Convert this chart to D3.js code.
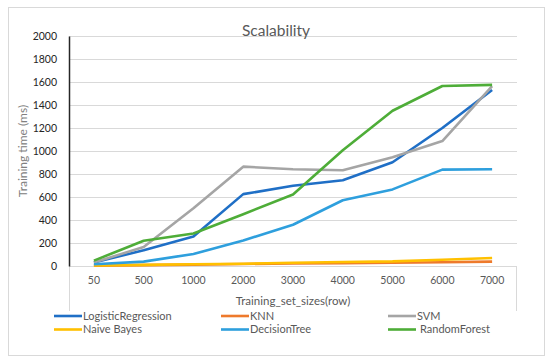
<!DOCTYPE html>
<html>
<head>
<meta charset="utf-8">
<script src="https://d3js.org/d3.v7.min.js"></script>
<style>
body { margin: 0; background: #fff; }
text { font-family: Lato, "Open Sans", sans-serif; }
</style>
</head>
<body>
<svg></svg>
<script>
var sizes = ["50", "500", "1000", "2000", "3000", "4000", "5000", "6000", "7000"];
var yTicks = [0, 200, 400, 600, 800, 1000, 1200, 1400, 1600, 1800, 2000];

var logisticRegression = [30, 137, 257, 625, 698, 745, 902, 1200, 1530];
var knn = [3, 8, 12, 18, 22, 25, 28, 32, 38];
var svm = [30, 166, 502, 864, 841, 832, 946, 1086, 1565];
var naiveBayes = [5, 10, 15, 20, 28, 35, 40, 55, 70];
var decisionTree = [15, 38, 105, 222, 359, 572, 666, 838, 841];
var randomForest = [47, 219, 283, 450, 622, 1007, 1350, 1565, 1575];

var seriesNames = ["LogisticRegression", "KNN", "SVM", "Naive Bayes", "DecisionTree", "RandomForest"];
var seriesValues = [logisticRegression, knn, svm, naiveBayes, decisionTree, randomForest];
var colors = ["#1f6fc6", "#ee7a2c", "#a5a5a5", "#ffc000", "#2e9fdd", "#4ead38"];

var width = 550, height = 364;
var plotLeft = 69, plotRight = 517, plotTop = 36, plotBottom = 266;

var svg = d3.select("svg").attr("width", width).attr("height", height);

// chart border
svg.append("rect")
    .attr("x", 8.5).attr("y", 7.5)
    .attr("width", 536).attr("height", 348)
    .attr("fill", "#fff")
    .attr("stroke", "#d9d9d9");

var xScale = d3.scaleBand().domain(sizes).range([plotLeft, plotRight]);
var yScale = d3.scaleLinear().domain([0, 2000]).range([plotBottom, plotTop]);

// gridlines
svg.append("g")
    .attr("transform", "translate(" + plotLeft + ",0)")
    .call(d3.axisLeft(yScale).tickValues(yTicks).tickSize(-(plotRight - plotLeft)).tickFormat(""))
    .call(function(g) { g.select(".domain").remove(); })
    .selectAll("line")
    .attr("stroke", "#d9d9d9");

// category axis box below the plot
svg.append("path")
    .attr("d", "M" + (plotLeft + 0.5) + "," + plotBottom + "V311M" + (plotRight - 0.5) + "," + plotBottom + "V311")
    .attr("stroke", "#d9d9d9")
    .attr("fill", "none");

// y axis
var yAxis = svg.append("g")
    .attr("transform", "translate(" + plotLeft + ",0)")
    .call(d3.axisLeft(yScale).tickValues(yTicks).tickFormat(d3.format("d")).tickSize(0).tickPadding(12));
yAxis.select(".domain").attr("stroke", "#262626").attr("stroke-width", 1.5);
yAxis.selectAll("text")
    .attr("fill", "#262626")
    .style("font-size", "10.5px");

// x axis labels
var xAxis = svg.append("g")
    .attr("transform", "translate(0," + plotBottom + ")")
    .call(d3.axisBottom(xScale).tickSize(0).tickPadding(11));
xAxis.select(".domain").remove();
xAxis.selectAll("text")
    .attr("fill", "#595959")
    .style("font-size", "10.5px");

// lines
var line = d3.line()
    .x(function(d, i) { return xScale(sizes[i]) + xScale.bandwidth() / 2; })
    .y(function(d) { return yScale(d); });

svg.append("g").selectAll("path")
    .data(seriesValues)
    .enter().append("path")
    .attr("d", line)
    .attr("fill", "none")
    .attr("stroke", function(d, i) { return colors[i]; })
    .attr("stroke-width", 2.6)
    .attr("stroke-linejoin", "round");

// titles
svg.append("text")
    .attr("x", 276).attr("y", 36)
    .attr("text-anchor", "middle")
    .attr("fill", "#595959")
    .style("font-size", "15.5px")
    .text("Scalability");

svg.append("text")
    .attr("transform", "translate(27," + ((plotTop + plotBottom) / 2) + ") rotate(-90)")
    .attr("text-anchor", "middle")
    .attr("fill", "#808080")
    .style("font-size", "12px")
    .text("Training time (ms)");

svg.append("text")
    .attr("x", (plotLeft + plotRight) / 2).attr("y", 305)
    .attr("text-anchor", "middle")
    .attr("fill", "#595959")
    .style("font-size", "11.5px")
    .text("Training_set_sizes(row)");

// legend, 3 columns x 2 rows
var legend = svg.append("g").selectAll("g")
    .data(seriesNames)
    .enter().append("g")
    .attr("transform", function(d, i) {
        return "translate(" + (54 + (i % 3) * 167) + "," + (316 + Math.floor(i / 3) * 13.5) + ")";
    });
legend.append("line")
    .attr("x1", 0).attr("x2", 28)
    .attr("stroke", function(d, i) { return colors[i]; })
    .attr("stroke-width", 2.6);
legend.append("text")
    .attr("x", function(d, i) { return i == 5 ? 32 : 29; })
    .attr("dy", "0.35em")
    .attr("fill", "#595959")
    .style("font-size", "11px")
    .text(function(d) { return d; });
</script>
</body>
</html>
